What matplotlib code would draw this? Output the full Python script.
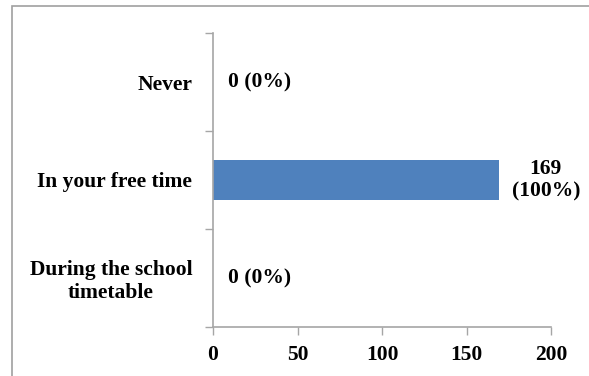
import matplotlib.pyplot as plt
from matplotlib.patches import Rectangle

categories = ["During the school\ntimetable", "In your free time", "Never"]
values = [0, 169, 0]
labels = ["0 (0%)", "169\n(100%)", "0 (0%)"]
xticks = [0, 50, 100, 150, 200]

plt.rcParams['font.family'] = ['Liberation Serif', 'DejaVu Serif']
fig = plt.figure(figsize=(5.89, 3.76), dpi=100)
W, H = 589, 376
ax = fig.add_axes([213/W, 1-327/H, (551-213)/W, (327-33)/H])

grey = '#A6A6A6'
fig.patches.append(Rectangle((12/W, -0.1), 1.2, 1-6/H+0.1, transform=fig.transFigure,
                             fill=False, edgecolor='#A0A0A0', linewidth=1.2))

FS = 15.5
y = list(range(len(categories)))
ax.barh(y, values, height=0.4, color='#4F81BD')
ax.set_xlim(0, 200)
ax.set_ylim(-0.5, 2.5)
ax.set_xticks(xticks)
ax.set_xticklabels([str(t) for t in xticks], fontsize=FS, fontweight='bold')
ax.set_yticks(y)
ax.set_yticklabels(categories, fontsize=FS, fontweight='bold', multialignment='center',
                   linespacing=1.2)
ax.tick_params(axis='y', length=0, pad=15)
ax.set_yticks([-0.5, 0.5, 1.5, 2.5], minor=True)
ax.tick_params(axis='y', which='minor', length=6, color=grey, width=1)
ax.tick_params(axis='x', length=6, color=grey, width=1, pad=7)
for s in ['top', 'right']:
    ax.spines[s].set_visible(False)
for s in ['left', 'bottom']:
    ax.spines[s].set_color(grey)
    ax.spines[s].set_linewidth(1.2)

for yi, v, lab in zip(y, values, labels):
    if v > 0:
        ax.annotate(lab, (v, yi), xytext=(34, 0), textcoords='offset points',
                    ha='center', va='center', fontsize=FS, fontweight='bold',
                    multialignment='center', linespacing=1.2)
    else:
        ax.annotate(lab, (v, yi), xytext=(11, 0), textcoords='offset points',
                    ha='left', va='center', fontsize=FS, fontweight='bold')

fig.savefig('out.png', dpi=100)
